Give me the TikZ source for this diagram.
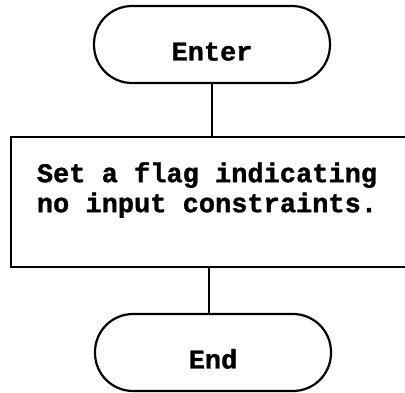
\documentclass[tikz,border=0pt]{standalone}
\usepackage{fontspec}
\newfontfamily\typewriter{Liberation Mono}[BoldFeatures={FakeBold=1.2}]
\begin{document}
\begin{tikzpicture}[x=1pt,y=-1pt,
  terminal/.style={draw, line width=2.2pt, rounded corners=38pt,
    minimum width=236pt, minimum height=77pt, inner sep=0pt,
    text height=32pt, text depth=0pt,
    font=\typewriter\bfseries\fontsize{27}{30}\selectfont},
  process/.style={draw, line width=1.5pt, minimum width=396pt,
    minimum height=130pt, inner sep=0pt},
  label text/.style={align=center, inner sep=0pt,
    font=\typewriter\bfseries\fontsize{27}{30}\selectfont},
  link/.style={line width=1.5pt}]
  \useasboundingbox (0,0) rectangle (405,393);
  \clip (0,0) rectangle (405,393);

  % start and end terminals
  \node[terminal] (enter) at (212,44.5) {Enter};
  \node[terminal] (finish) at (213,352.5) {End};

  % single processing step
  \node[process] (flag) at (209,202) {};
  \node[label text] (flagtext) at (207,190)
    {Set a flag indicating\\no input constraints.};

  % flow lines
  \draw[link] (enter.south) -- (enter.south |- flag.north);
  \draw[link] (finish.north -| 209,0) -- (flag.south -| 209,0);
\end{tikzpicture}
\end{document}
